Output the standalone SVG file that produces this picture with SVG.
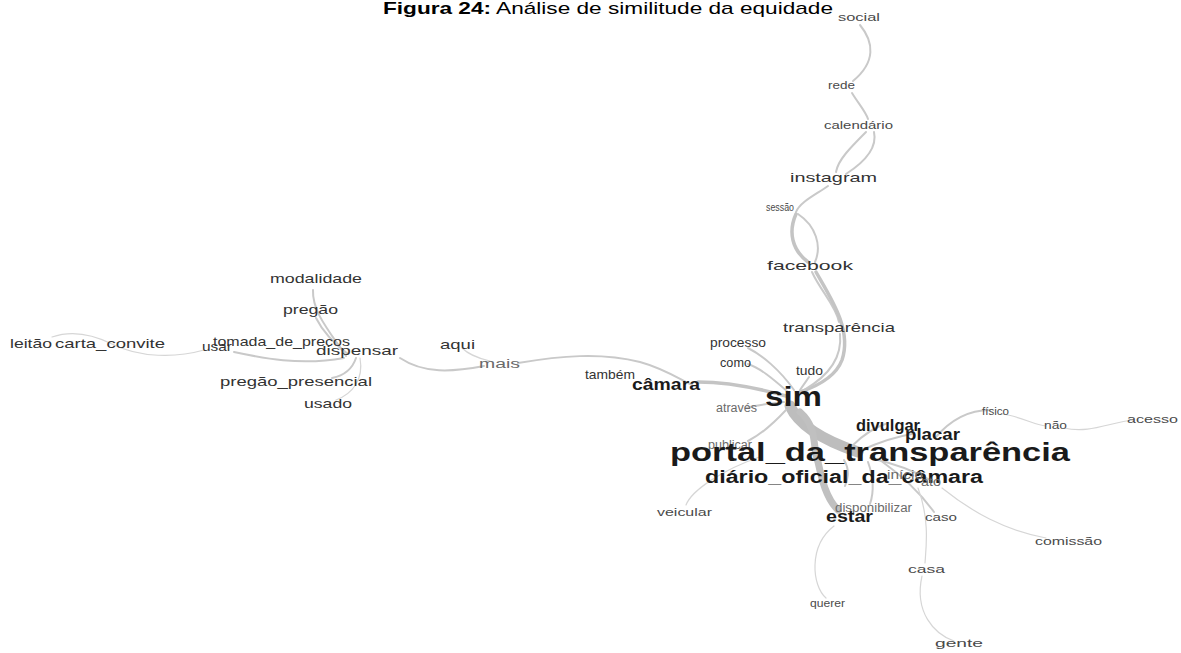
<svg xmlns="http://www.w3.org/2000/svg" width="1181" height="653" viewBox="0 0 1181 653">
  <style>
    .bg { fill: #ffffff; }
    .e { fill: none; stroke: #c9c9c9; stroke-width: 2; stroke-linecap: round; }
    .e1 { fill: none; stroke: #d6d6d6; stroke-width: 1.2; stroke-linecap: round; }
    .e3 { fill: none; stroke: #c4c4c4; stroke-width: 3.5; stroke-linecap: round; }
    .e6 { fill: none; stroke: #c0c0c0; stroke-width: 7; stroke-linecap: round; }
    .e10 { fill: none; stroke: #bdbdbd; stroke-width: 11; stroke-linecap: round; }
    text { font-family: "Liberation Sans", Arial, sans-serif; }
    .s { fill: #4a4a4a; font-size: 11.5px; }
    .m { fill: #333333; font-size: 13px; }
    .g { fill: #6a6a6a; font-size: 12.5px; }
    .b { fill: #1a1a1a; font-weight: bold; }
    .title { fill: #000000; font-size: 17px; }
  </style>
  <rect class="bg" x="0" y="0" width="1181" height="653"/>

  <text class="title" x="383" y="14" textLength="450" lengthAdjust="spacingAndGlyphs"><tspan font-weight="bold">Figura 24:</tspan> Análise de similitude da equidade</text>

  <g id="connectors">
    <!-- upper chain -->
    <path class="e" d="M860,25 C874,42 876,62 853,81"/>
    <path class="e" d="M852,93 C858,103 866,112 868,119"/>
    <path class="e" d="M866,132 C850,148 838,160 836,172"/>
    <path class="e" d="M874,132 C878,150 860,165 846,174"/>
    <path class="e" d="M828,186 C815,195 800,202 796,212"/>
    <path class="e3" d="M796,214 C788,232 792,250 808,262"/>
    <path class="e" d="M798,214 C816,226 822,246 815,262"/>
    <path class="e" d="M812,272 C820,290 836,306 839,322"/>
    <path class="e3" d="M816,272 C832,300 852,330 842,360 C836,376 818,386 800,392"/>
    <path class="e" d="M840,334 C842,354 832,374 804,390"/>
    <!-- hub: sim -->
    <path class="e10" d="M790,406 C800,428 828,442 858,452"/>
    <path class="e6" d="M800,412 C818,428 812,445 818,462 C822,480 826,498 838,510"/>
    <path class="e3" d="M786,396 C750,386 722,382 698,382"/>
    <path class="e" d="M788,392 C772,378 760,368 748,364"/>
    <path class="e" d="M794,390 C780,370 762,355 748,348"/>
    <path class="e" d="M800,390 C804,384 807,380 809,377"/>
    <path class="e" d="M784,402 C766,404 752,406 746,408"/>
    <path class="e" d="M786,410 C772,425 758,436 748,441"/>
    <!-- hub: portal_da_transparência -->
    <path class="e" d="M852,446 C866,432 878,426 888,423"/>
    <path class="e" d="M862,450 C884,440 900,436 912,434"/>
    <path class="e" d="M935,438 C952,418 972,410 990,410"/>
    <path class="e1" d="M1002,414 C1020,416 1034,425 1046,426"/>
    <path class="e1" d="M1064,428 C1090,434 1110,422 1134,420"/>
    <path class="e" d="M870,458 C898,464 920,474 934,482"/>
    <path class="e1" d="M942,488 C972,512 1004,530 1046,538"/>
    <path class="e" d="M880,460 C908,480 924,498 934,512"/>
    <path class="e1" d="M918,488 C930,520 926,548 925,563"/>
    <path class="e1" d="M922,576 C914,612 934,634 954,641"/>
    <path class="e" d="M868,462 C876,484 872,498 870,504"/>
    <path class="e1" d="M834,526 C808,546 812,586 826,598"/>
    <path class="e1" d="M762,456 C722,470 692,490 686,505"/>
    <path class="e" d="M844,460 C850,470 848,478 845,486"/>
    <!-- câmara to the left cluster -->
    <path class="e" d="M692,385 C676,377 662,368 640,362 C600,352 560,356 518,363"/>
    <path class="e1" d="M490,361 C476,358 466,352 462,348"/>
    <path class="e" d="M484,366 C452,372 424,374 400,358"/>
    <path class="e" d="M346,356 C330,332 312,312 313,290"/>
    <path class="e" d="M348,354 C332,342 322,330 316,318"/>
    <path class="e" d="M344,358 C300,366 262,358 234,352"/>
    <path class="e1" d="M204,350 C176,358 140,358 112,344 C92,334 72,330 52,337"/>
    <path class="e" d="M356,358 C352,370 342,376 332,378"/>
    <path class="e1" d="M360,358 C364,380 352,394 336,400"/>
  </g>

  <g id="n-social"><text class="s" x="838" y="21" textLength="42" lengthAdjust="spacingAndGlyphs">social</text></g>
  <g id="n-rede"><text class="s" x="828" y="89" textLength="27" lengthAdjust="spacingAndGlyphs">rede</text></g>
  <g id="n-calendario"><text class="s" x="824" y="129" textLength="69" lengthAdjust="spacingAndGlyphs">calendário</text></g>
  <g id="n-instagram"><text class="m" font-size="14" x="790" y="182" textLength="87" lengthAdjust="spacingAndGlyphs">instagram</text></g>
  <g id="n-sessao"><text class="s" x="766" y="211" textLength="28" lengthAdjust="spacingAndGlyphs">sessão</text></g>
  <g id="n-facebook"><text class="m" font-size="14" x="767" y="270" textLength="86" lengthAdjust="spacingAndGlyphs">facebook</text></g>
  <g id="n-transparencia"><text class="m" x="783" y="332" textLength="112" lengthAdjust="spacingAndGlyphs">transparência</text></g>
  <g id="n-processo"><text class="m" x="710" y="347" textLength="56" lengthAdjust="spacingAndGlyphs">processo</text></g>
  <g id="n-como"><text class="m" x="720" y="367" textLength="31" lengthAdjust="spacingAndGlyphs">como</text></g>
  <g id="n-tudo"><text class="m" x="796" y="375" textLength="27" lengthAdjust="spacingAndGlyphs">tudo</text></g>
  <g id="n-tambem"><text class="m" x="585" y="379" textLength="50" lengthAdjust="spacingAndGlyphs">também</text></g>
  <g id="n-camara"><text class="b" font-size="17" x="632" y="390" textLength="68" lengthAdjust="spacingAndGlyphs">câmara</text></g>
  <g id="n-sim"><text class="b" font-size="27" fill="#000" x="765" y="406" textLength="57" lengthAdjust="spacingAndGlyphs">sim</text></g>
  <g id="n-atraves"><text class="g" x="716" y="412" textLength="41" lengthAdjust="spacingAndGlyphs">através</text></g>
  <g id="n-divulgar"><text class="b" font-size="16" x="856" y="431" textLength="64" lengthAdjust="spacingAndGlyphs">divulgar</text></g>
  <g id="n-placar"><text class="b" font-size="16" x="905" y="440" textLength="55" lengthAdjust="spacingAndGlyphs">placar</text></g>
  <g id="n-fisico"><text class="s" x="982" y="415" textLength="27" lengthAdjust="spacingAndGlyphs">físico</text></g>
  <g id="n-nao"><text class="s" x="1044" y="429" textLength="23" lengthAdjust="spacingAndGlyphs">não</text></g>
  <g id="n-acesso"><text class="s" x="1127" y="423" textLength="51" lengthAdjust="spacingAndGlyphs">acesso</text></g>
  <g id="n-publicar"><text class="g" x="708" y="449" textLength="44" lengthAdjust="spacingAndGlyphs">publicar</text></g>
  <g id="n-portal"><text class="b" font-size="25" fill="#111" x="670" y="461" textLength="400" lengthAdjust="spacingAndGlyphs">portal_da_transparência</text></g>
  <g id="n-diario"><text class="b" font-size="18" fill="#222" x="705" y="483" textLength="278" lengthAdjust="spacingAndGlyphs">diário_oficial_da_câmara</text></g>
  <g id="n-inicio"><text class="g" font-size="11" x="887" y="479" textLength="36" lengthAdjust="spacingAndGlyphs">início</text></g>
  <g id="n-ato"><text class="g" font-size="11" x="921" y="486" textLength="20" lengthAdjust="spacingAndGlyphs">ato</text></g>
  <g id="n-veicular"><text class="s" x="657" y="516" textLength="55" lengthAdjust="spacingAndGlyphs">veicular</text></g>
  <g id="n-disponibilizar"><text class="g" x="835" y="512" textLength="77" lengthAdjust="spacingAndGlyphs">disponibilizar</text></g>
  <g id="n-estar"><text class="b" font-size="16" x="826" y="522" textLength="47" lengthAdjust="spacingAndGlyphs">estar</text></g>
  <g id="n-caso"><text class="s" x="925" y="521" textLength="32" lengthAdjust="spacingAndGlyphs">caso</text></g>
  <g id="n-comissao"><text class="s" x="1035" y="545" textLength="67" lengthAdjust="spacingAndGlyphs">comissão</text></g>
  <g id="n-casa"><text class="s" x="908" y="573" textLength="37" lengthAdjust="spacingAndGlyphs">casa</text></g>
  <g id="n-querer"><text class="s" x="810" y="607" textLength="35" lengthAdjust="spacingAndGlyphs">querer</text></g>
  <g id="n-gente"><text class="s" x="935" y="647" textLength="48" lengthAdjust="spacingAndGlyphs">gente</text></g>
  <g id="n-aqui"><text class="m" x="440" y="349" textLength="35" lengthAdjust="spacingAndGlyphs">aqui</text></g>
  <g id="n-mais"><text class="g" x="479" y="368" textLength="41" lengthAdjust="spacingAndGlyphs">mais</text></g>
  <g id="n-dispensar"><text class="m" font-size="14" x="316" y="355" textLength="82" lengthAdjust="spacingAndGlyphs">dispensar</text></g>
  <g id="n-tomada"><text class="m" font-size="14" x="213" y="346" textLength="137" lengthAdjust="spacingAndGlyphs">tomada_de_precos</text></g>
  <g id="n-usar"><text class="m" x="202" y="351" textLength="30" lengthAdjust="spacingAndGlyphs">usar</text></g>
  <g id="n-carta"><text class="m" x="55" y="348" textLength="110" lengthAdjust="spacingAndGlyphs">carta_convite</text></g>
  <g id="n-leitao"><text class="m" x="10" y="348" textLength="42" lengthAdjust="spacingAndGlyphs">leitão</text></g>
  <g id="n-modalidade"><text class="m" x="270" y="283" textLength="92" lengthAdjust="spacingAndGlyphs">modalidade</text></g>
  <g id="n-pregao"><text class="m" x="283" y="314" textLength="55" lengthAdjust="spacingAndGlyphs">pregão</text></g>
  <g id="n-pregao-presencial"><text class="m" font-size="14" x="220" y="386" textLength="152" lengthAdjust="spacingAndGlyphs">pregão_presencial</text></g>
  <g id="n-usado"><text class="m" x="304" y="408" textLength="48" lengthAdjust="spacingAndGlyphs">usado</text></g>
</svg>
